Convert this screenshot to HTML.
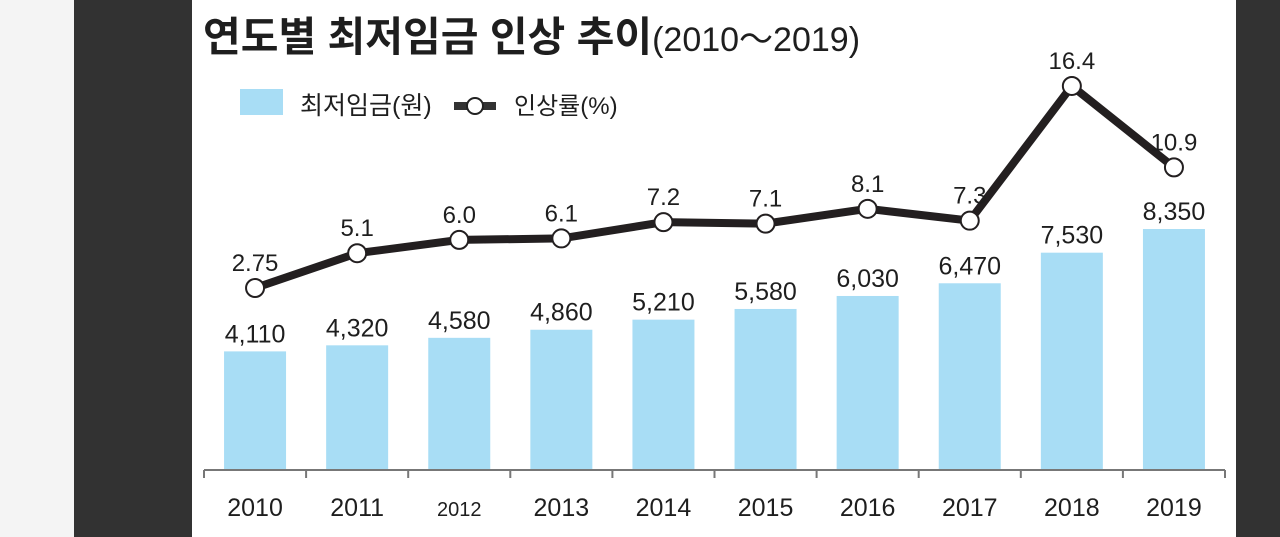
<!DOCTYPE html>
<html><head><meta charset="utf-8"><style>
html,body{margin:0;padding:0;width:1280px;height:537px;overflow:hidden;background:#f4f4f4}
svg{display:block}
text{font-family:"Liberation Sans","Noto Sans CJK KR",sans-serif;fill:#1e1e1e}
</style></head><body>
<svg width="1280" height="537">
<rect x="0" y="0" width="74" height="537" fill="#f4f4f4"/>
<rect x="74" y="0" width="118" height="537" fill="#323232"/>
<rect x="192" y="0" width="1044" height="537" fill="#ffffff"/>
<rect x="1236" y="0" width="44" height="537" fill="#323232"/>
<text x="203" y="51" font-size="41" font-weight="bold">연도별 최저임금 인상 추이<tspan font-weight="normal" font-size="34">(2010～2019)</tspan></text>
<g>
<rect x="240" y="89" width="43" height="26" fill="#a8ddf5"/>
<text x="300" y="114" font-size="25">최저임금(원)</text>
<line x1="454" y1="106" x2="496" y2="106" stroke="#333" stroke-width="8"/>
<circle cx="475" cy="106" r="8" fill="#fff" stroke="#222" stroke-width="2"/>
<text x="514" y="114" font-size="24">인상률(%)</text>
</g>
<g id="plot"></g>
</svg>
<script>
const years=["2010","2011","2012","2013","2014","2015","2016","2017","2018","2019"];
const wages=[4110,4320,4580,4860,5210,5580,6030,6470,7530,8350];
const wageLabels=["4,110","4,320","4,580","4,860","5,210","5,580","6,030","6,470","7,530","8,350"];
const rates=[2.75,5.1,6.0,6.1,7.2,7.1,8.1,7.3,16.4,10.9];
const rateLabels=["2.75","5.1","6.0","6.1","7.2","7.1","8.1","7.3","16.4","10.9"];

const NS="http://www.w3.org/2000/svg";
const g=document.getElementById('plot');
const x0=204, step=102.1, base=470;
const xc=i=>x0+step*(i+0.5);
const yBar=v=>base-v*0.02886;
const yLine=v=>328.7-v*14.8;
function mk(tag,attrs){const e=document.createElementNS(NS,tag);for(const k in attrs)e.setAttribute(k,attrs[k]);g.appendChild(e);return e;}

years.forEach((y,i)=>{
  const b=mk('rect',{x:xc(i)-31,y:yBar(wages[i]),width:62,height:base-yBar(wages[i]),fill:'#a8ddf5'});
  
  
  const t=mk('text',{x:xc(i),y:yBar(wages[i])-9,'font-size':25,'text-anchor':'middle'});
  t.textContent=wageLabels[i];
  
  
  const yl=mk('text',{x:xc(i),y:516,'font-size':y==="2012"?20:25,'text-anchor':'middle'});
  yl.textContent=y;
  
  
});
const ax=mk('line',{x1:x0,y1:base,x2:x0+step*10,y2:base,stroke:'#777','stroke-width':2});


for(let i=0;i<=10;i++){
  const tk=mk('line',{x1:x0+step*i,y1:base,x2:x0+step*i,y2:base+8,stroke:'#777','stroke-width':2});
  
  
}
const pl=mk('polyline',{points:rates.map((r,i)=>xc(i)+','+yLine(r)).join(' '),fill:'none',stroke:'#231f20','stroke-width':8,'stroke-linejoin':'miter'});


rates.forEach((r,i)=>{
  const c=mk('circle',{cx:xc(i),cy:yLine(r),r:9,fill:'#fff',stroke:'#231f20','stroke-width':2});
  
  
  const t=mk('text',{x:xc(i),y:yLine(r)-17,'font-size':24,'text-anchor':'middle'});
  t.textContent=rateLabels[i];
  
  
});
</script>
</body></html>
